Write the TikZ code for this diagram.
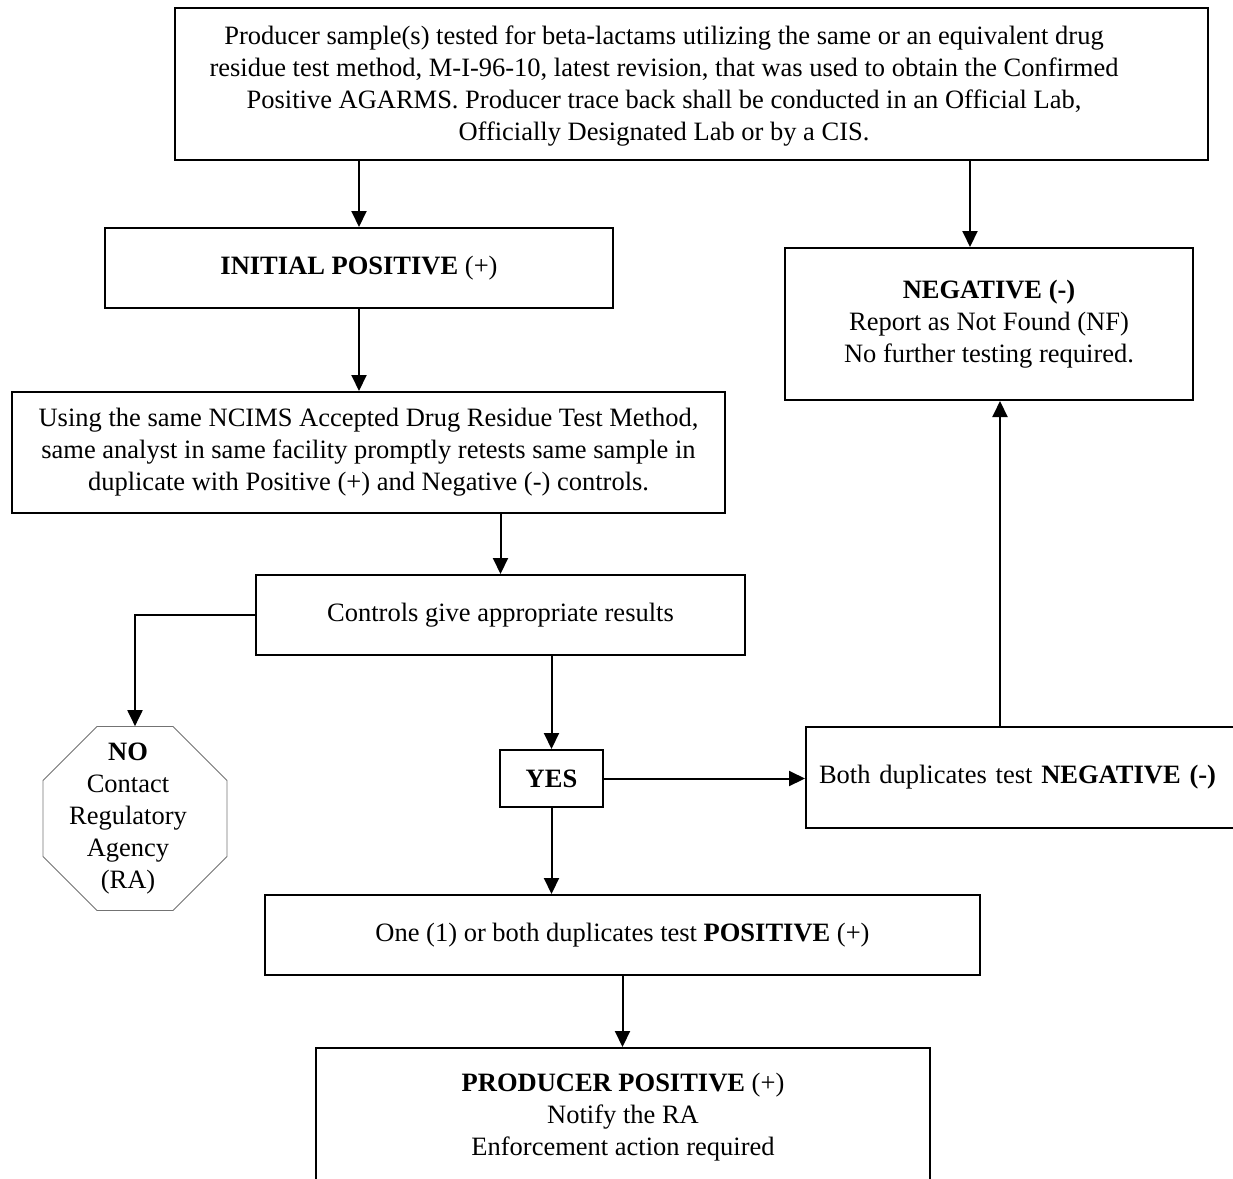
\documentclass[tikz,border=0pt]{standalone}
\usepackage{fontspec}
\setmainfont{Liberation Serif}
\usetikzlibrary{shapes.geometric,arrows.meta,calc}
\begin{document}
\begin{tikzpicture}[x=1pt,y=-1pt,
  box/.style={draw=black,line width=2pt,rectangle,align=center,inner sep=0pt,
    font=\fontsize{26.5}{32}\selectfont},
  arr/.style={line width=2pt,-{Triangle[length=16pt,width=15pt]}},
  txt/.style={align=center,font=\fontsize{26.5}{32}\selectfont}]
\useasboundingbox (0,0) rectangle (1233,1178);
\node[box,minimum width=1033pt,minimum height=152pt] (top) at (691.5,84) {};
\node[txt] (toptext) at (664,86)
 {Producer sample(s) tested for beta-lactams utilizing the same or an equivalent drug\\
  residue test method, M-I-96-10, latest revision, that was used to obtain the Confirmed\\
  Positive AGARMS. Producer trace back shall be conducted in an Official Lab,\\
  Officially Designated Lab or by a CIS.};
\node[box,minimum width=508pt,minimum height=80pt] (init) at (359,268)
 {\textbf{INITIAL POSITIVE} (+)};
\node[box,minimum width=408pt,minimum height=152pt] (neg) at (989,324)
 {\textbf{NEGATIVE (-)}\\Report as Not Found (NF)\\No further testing required.};
\node[box,minimum width=713pt,minimum height=121pt] (using) at (368.5,452.5)
 {Using the same NCIMS Accepted Drug Residue Test Method,\\
  same analyst in same facility promptly retests same sample in\\
  duplicate with Positive (+) and Negative (-) controls.};
\node[box,minimum width=489pt,minimum height=80pt] (ctrl) at (500.5,615)
 {Controls give appropriate results};
\node[box,minimum width=103pt,minimum height=57pt] (yes) at (551.5,778.5)
 {\textbf{YES}};
\node[box,minimum width=432pt,minimum height=101pt,text width=410pt,align=left,inner xsep=13pt] (both) at (1024,777.5)
 {Both duplicates test \textbf{NEGATIVE (-)}};
\node[box,minimum width=715pt,minimum height=80pt] (one) at (622.5,935)
 {One (1) or both duplicates test \textbf{POSITIVE} (+)};
\node[box,minimum width=614pt,minimum height=138pt] (prod) at (623,1117)
 {\textbf{PRODUCER POSITIVE} (+)\\Notify the RA\\Enforcement action required};
\node[draw=black!55,line width=0.8pt,regular polygon,regular polygon sides=8,
  minimum size=199pt,inner sep=0pt] (no) at (135,818.5) {};
\node[txt] (notext) at (128,818.5) {\textbf{NO}\\Contact\\Regulatory\\Agency\\(RA)};
\draw[arr] (init.north |- top.south) -- (init.north);
\draw[arr] ([xshift=-19pt]neg.north |- top.south) -- ([xshift=-19pt]neg.north);
\draw[arr] (init.south) -- (init.south |- using.north);
\draw[arr] (ctrl.north |- using.south) -- (ctrl.north);
\draw[arr] (ctrl.west) -| (no.north);
\draw[arr] (yes.north |- ctrl.south) -- (yes.north);
\draw[arr] (yes.east) -- (yes.east -| both.west);
\draw[arr] ([xshift=-24pt]both.north) -- ([xshift=-24pt]both.north |- neg.south);
\draw[arr] (yes.south) -- (yes.south |- one.north);
\draw[arr] (one.south) -- (one.south |- prod.north);
\end{tikzpicture}
\end{document}
